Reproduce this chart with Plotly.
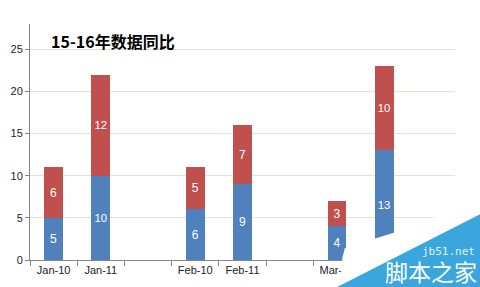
import plotly.graph_objects as go

categories = ["Jan-10", "Jan-11", " ", "Feb-10", "Feb-11", "  ", "Mar-10", "Mar-11", "   "]
bar_cats = ["Jan-10", "Jan-11", "Feb-10", "Feb-11", "Mar-10", "Mar-11"]
blue_vals = [5, 10, 6, 9, 4, 13]
red_vals = [6, 12, 5, 7, 3, 10]
title_text = "15-16年数据同比"
y_ticks = [0, 5, 10, 15, 20, 25]

fig = go.Figure()
fig.add_bar(x=bar_cats, y=blue_vals, marker_color="#4f81bd", width=0.4,
            text=blue_vals, textposition="inside", insidetextanchor="middle",
            textfont=dict(color="white", size=12, family="Liberation Sans"),
            marker_line_width=0, showlegend=False)
fig.add_bar(x=bar_cats, y=red_vals, marker_color="#c0504d", width=0.4,
            text=red_vals, textposition="inside", insidetextanchor="middle",
            textfont=dict(color="white", size=12, family="Liberation Sans"),
            marker_line_width=0, showlegend=False)

fig.update_layout(
    barmode="stack",
    width=480, height=287,
    margin=dict(l=30, r=25, t=24, b=27),
    paper_bgcolor="white", plot_bgcolor="white",
    font=dict(family="Liberation Sans", size=11, color="#222"),
    xaxis=dict(type="category", categoryorder="array", categoryarray=categories,
               range=[-0.5, 8.5], tickson="boundaries", ticks="outside", ticklen=5,
               tickcolor="#868686", showline=True, linecolor="#868686", linewidth=1,
               showgrid=False, tickfont=dict(size=11)),
    yaxis=dict(range=[0, 28], tickvals=y_ticks, ticks="outside", ticklen=4,
               tickcolor="#868686", showline=True, linecolor="#868686", linewidth=1,
               showgrid=True, gridcolor="#e6e2d0", gridwidth=1, zeroline=False,
               tickfont=dict(size=11)),
    annotations=[
        dict(text="<b>" + title_text + "</b>", xref="paper", yref="paper", x=0.045, y=0.93,
             xanchor="left", yanchor="middle", showarrow=False,
             font=dict(family="Noto Sans CJK SC", size=16, color="black")),
        dict(text="jb51.net", xref="paper", yref="paper", x=1.052, y=0.034,
             xanchor="right", yanchor="middle", showarrow=False,
             font=dict(family="DejaVu Sans Mono", size=11, color="#e4f2fb")),
        dict(text="脚本之家", xref="paper", yref="paper", x=1.056, y=-0.045,
             xanchor="right", yanchor="middle", showarrow=False,
             font=dict(family="Noto Sans CJK SC", size=23, color="white")),
    ],
    shapes=[
        dict(type="path", xref="paper", yref="paper", layer="above",
             path="M 0.727 -0.12 L 0.735 0.01 L 0.741 0.051 L 0.854 0.114 L 1.06 0.254 L 1.06 -0.12 Z",
             fillcolor="white", line_width=0),
        dict(type="path", xref="paper", yref="paper", layer="above",
             path="M 0.722 -0.115 L 1.06 0.195 L 1.06 -0.115 Z",
             fillcolor="#3aa6dd", line_width=0),
    ],
)

fig.write_html("out.html")
